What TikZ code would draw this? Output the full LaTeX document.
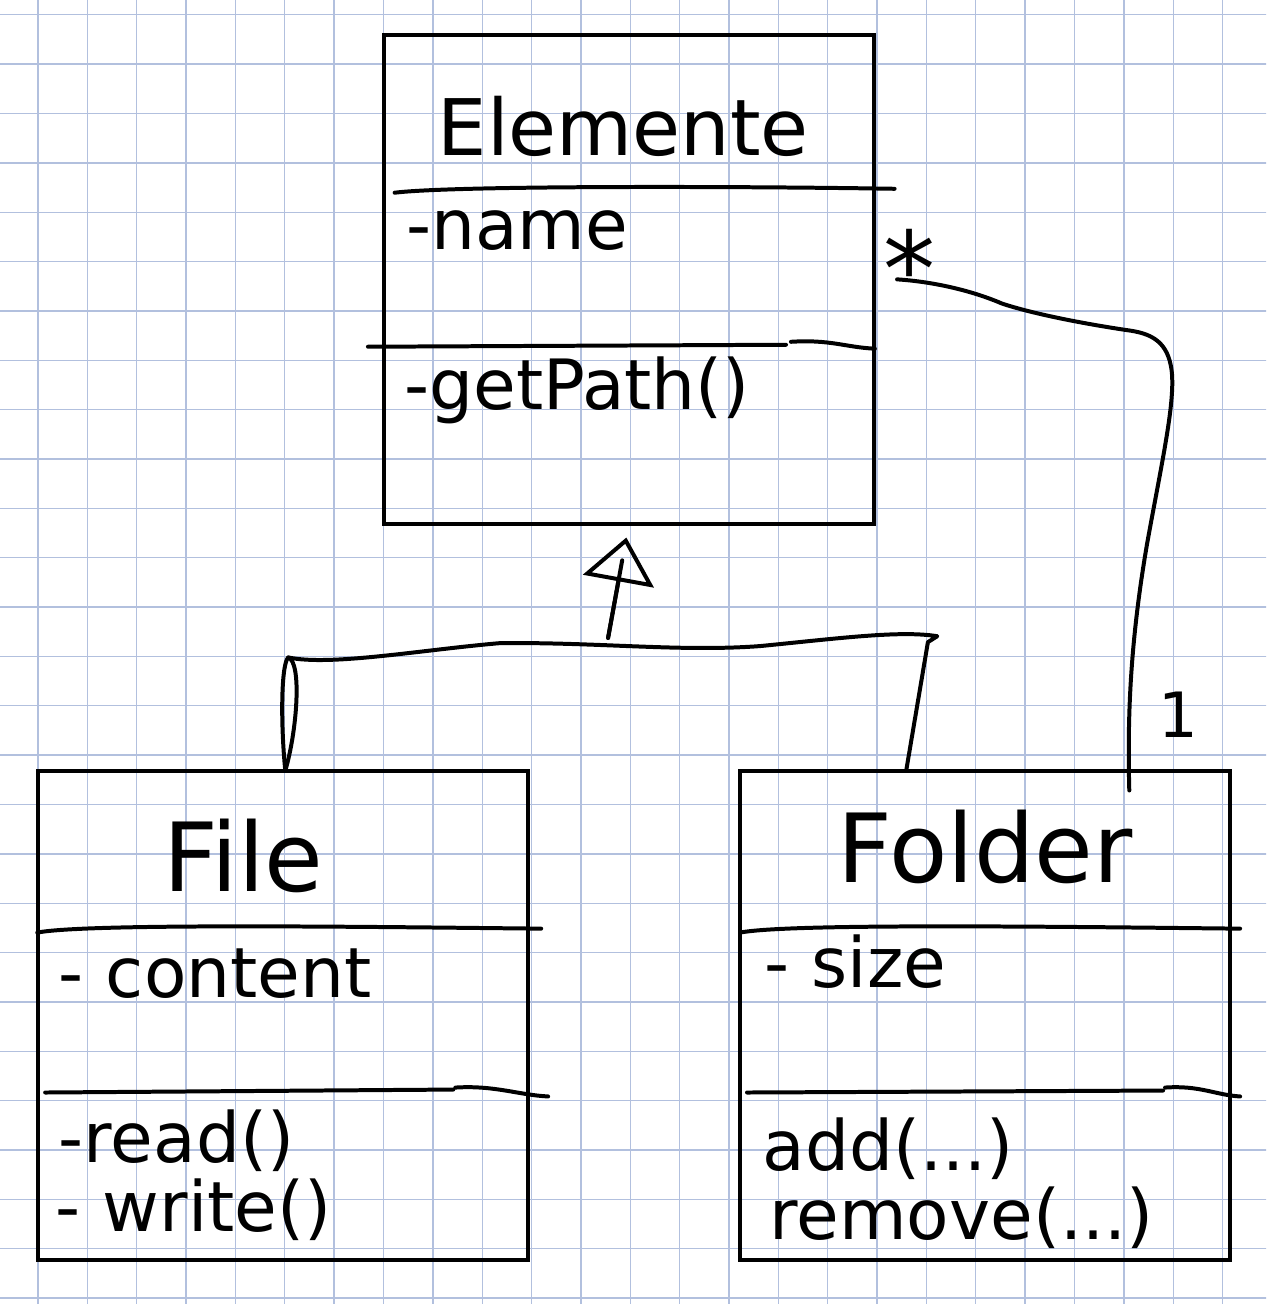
\documentclass[tikz,border=0pt]{standalone}
\usepackage{fontspec}
\setmainfont{DejaVu Sans}
\usetikzlibrary{arrows.meta, positioning, calc}
\definecolor{gridblue}{RGB}{178,192,222}

\begin{document}
\begin{tikzpicture}[>=Stealth]

% Styles
\tikzstyle{classbox} = [rectangle, minimum width=9.93cm, minimum height=9.91cm, draw=black, line width=2.3pt, inner sep=0pt, outer sep=0pt]
\tikzstyle{title} = [inner sep=0pt, anchor=base, font=\fontsize{55}{60}\selectfont]
\tikzstyle{member} = [inner sep=0pt, anchor=base west, font=\fontsize{40}{44}\selectfont]
\tikzstyle{pen} = [line width=2.3pt, line cap=round, line join=round]
\tikzstyle{inherit} = [pen, -{Triangle[open, length=0.9cm, width=1.45cm]}]
\tikzstyle{paper} = [gridblue, line width=0.8pt]

% --- Paper ---
\useasboundingbox (0,0) rectangle (25.65,-26.42);
\fill[white] (0,0) rectangle (25.65,-26.42);
\begin{scope}
\clip (0,0) rectangle (25.65,-26.42);
\draw[paper, shift={(0.77,-0.30)}] (-1,-27) grid (25,1);
\end{scope}

% --- Nodes ---
\node (elemente) [classbox] at (12.74,-5.66) {};
\node (file) [classbox, below=5cm of elemente, xshift=-7cm] {};
\node (folder) [classbox, right=4.29cm of file] {};

% Elemente
\node (elemente_title) [title, font=\fontsize{45}{50}\selectfont] at ($(elemente.north)+(-0.11,-2.45)$) {Elemente};
\draw[pen] ($(elemente.north west)+(0.22,-3.20)$) .. controls +(1.2,0.15) and +(-3,0.05) .. ($(elemente.north west)+(10.35,-3.12)$);
\node (elemente_name) [member] at ($(elemente.north west)+(0.45,-4.36)$) {-name};
\draw[pen] ($(elemente.north west)+(-0.32,-6.32)$) -- ($(elemente.north west)+(8.15,-6.28)$);
\draw[pen] ($(elemente.north west)+(8.25,-6.22)$) .. controls +(0.8,0.05) and +(-0.6,0.03) .. ($(elemente.north west)+(9.95,-6.36)$);
\node (elemente_path) [member] at ($(elemente.north west)+(0.41,-7.6)$) {-getPath()};

% File
\node (file_title) [title] at ($(file.north)+(-0.81,-2.45)$) {File};
\draw[pen] ($(file.north west)+(-0.02,-3.28)$) .. controls +(1.0,0.2) and +(-3,0.03) .. ($(file.north west)+(10.19,-3.20)$);
\node (file_content) [member] at ($(file.north west)+(0.41,-4.6)$) {- content};
\draw[pen] ($(file.north west)+(0.14,-6.52)$) -- ($(file.north west)+(8.41,-6.46)$);
\draw[pen] ($(file.north west)+(8.45,-6.42)$) .. controls +(0.8,0.05) and +(-0.6,0.03) .. ($(file.north west)+(10.33,-6.6)$);
\node (file_read) [member] at ($(file.north west)+(0.41,-7.94)$) {-read()};
\node (file_write) [member] at ($(file.north west)+(0.35,-9.34)$) {- write()};

% Folder
\node (folder_title) [title] at ($(folder.north)+(0,-2.27)$) {Folder};
\draw[pen] ($(folder.north west)+(0,-3.28)$) .. controls +(1.0,0.2) and +(-3,0.03) .. ($(folder.north west)+(10.13,-3.20)$);
\node (folder_size) [member] at ($(folder.north west)+(0.49,-4.4)$) {- size};
\draw[pen] ($(folder.north west)+(0.14,-6.52)$) -- ($(folder.north west)+(8.57,-6.48)$);
\draw[pen] ($(folder.north west)+(8.61,-6.42)$) .. controls +(0.7,0.05) and +(-0.5,0.03) .. ($(folder.north west)+(10.13,-6.6)$);
\node (folder_add) [member] at ($(folder.north west)+(0.45,-8.09)$) {add(...)};
\node (folder_remove) [member] at ($(folder.north west)+(0.59,-9.5)$) {remove(...)};

% --- Inheritance ---
\coordinate (joint) at ($(elemente.south)+(-0.42,-2.31)$);
\draw[inherit, shorten >=0.28cm] (joint) -- (elemente.south);
\draw[pen, shorten >=0.75cm] (joint) -- (elemente.south);
\draw[pen] ($(file.north)+(0.04,0)$) .. controls (5.68,-14.6) and (5.70,-13.45) .. (5.84,-13.32)
  .. controls (6.69,-13.50) and (8.51,-13.17) .. (10.13,-13.03)
  .. controls (12.16,-13.01) and (13.78,-13.21) .. (15.40,-13.09)
  .. controls (17.02,-12.93) and (18.24,-12.77) .. (18.99,-12.89)
  -- (18.80,-13.01) -- ($(folder.north)+(-1.6,0)$);
\draw[pen] (5.84,-13.32) .. controls (6.12,-13.42) and (6.02,-14.8) .. ($(file.north)+(0.04,0)$);

% --- Association ---
\draw[pen] ($(folder.north)+(2.92,-0.4)$) .. controls (22.84,-14.5) and (22.9,-13.0) .. (23.24,-11.02)
  .. controls (23.55,-9.3) and (23.85,-8.0) .. (23.72,-7.4)
  .. controls (23.62,-6.9) and (23.3,-6.75) .. (22.84,-6.69)
  .. controls (21.9,-6.55) and (20.9,-6.35) .. (20.3,-6.15)
  .. controls (19.6,-5.85) and (18.8,-5.7) .. ($(elemente.east)+(0.47,0)$);
\node (many) [inner sep=0pt, anchor=base, font=\fontsize{60}{64}\selectfont] at ($(elemente.east)+(0.73,-0.55)$) {*};
\node (one) [inner sep=0pt, anchor=base, font=\fontsize{36}{40}\selectfont] at ($(folder.north)+(3.91,0.67)$) {1};

\end{tikzpicture}
\end{document}
